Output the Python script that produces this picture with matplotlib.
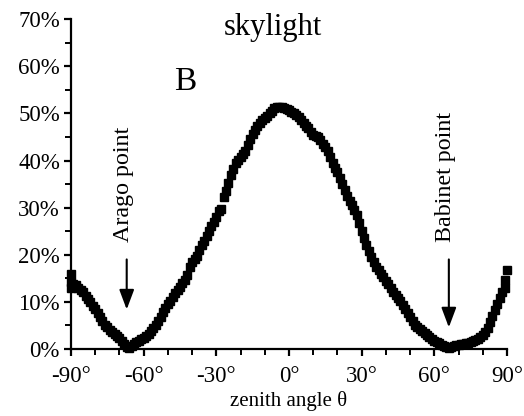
import matplotlib.pyplot as plt
from matplotlib.ticker import MultipleLocator, FuncFormatter

plt.rcParams['font.family'] = ['Liberation Serif', 'DejaVu Serif']

# degree of polarization of skylight along the solar meridian, one reading per degree
theta = list(range(-90, 91))
dop = [13.0, 13.8, 13.5, 13.0, 12.5, 12.0, 11.3, 10.6, 10.0, 9.2,     # -90 .. -81
       8.5, 7.6, 6.8, 6.0, 5.2, 4.6, 4.0, 3.6, 3.2, 2.8,              # -80 .. -71
       2.3, 1.6, 1.0, 0.5, 0.3, 0.6, 1.0, 1.4, 1.8, 2.1,              # -70 .. -61
       2.4, 2.7, 3.2, 3.8, 4.5, 5.2, 6.0, 6.9, 7.8, 8.7,              # -60 .. -51
       9.5, 10.2, 11.0, 11.8, 12.5, 13.2, 14.0, 14.6, 15.8, 17.5,     # -50 .. -41
       18.5, 19.0, 19.8, 21.0, 22.0, 23.0, 24.0, 25.0, 26.0, 27.0,    # -40 .. -31
       28.0, 29.2, 29.8, 32.2, 33.5, 35.2, 37.0, 38.3, 39.5, 40.2,    # -30 .. -21
       40.8, 41.4, 42.0, 43.2, 44.5, 45.6, 46.5, 47.3, 48.0, 48.6,    # -20 .. -11
       49.0, 49.5, 50.0, 50.6, 51.2, 51.4, 51.4, 51.3, 51.2, 51.0,    # -10 .. -1
       50.8, 50.4, 50.0, 49.6, 49.2, 48.6, 48.0, 47.4, 46.8, 46.0,    #   0 .. 9
       45.5, 45.2, 45.0, 44.3, 43.5, 42.8, 42.0, 40.8, 39.5, 38.5,    #  10 .. 19
       37.5, 36.3, 35.0, 33.7, 32.5, 31.5, 30.5, 29.5, 28.5, 26.8,    #  20 .. 29
       25.0, 23.5, 22.0, 20.7, 19.5, 18.5, 17.5, 16.7, 16.0, 15.2,    #  30 .. 39
       14.5, 13.7, 13.0, 12.2, 11.5, 10.8, 10.2, 9.3, 8.5, 7.6,       #  40 .. 49
       6.8, 6.0, 5.2, 4.7, 4.2, 3.8, 3.4, 2.9, 2.5, 2.1,              #  50 .. 59
       1.8, 1.5, 1.2, 0.9, 0.6, 0.4, 0.2, 0.4, 0.6, 0.8,              #  60 .. 69
       0.9, 1.0, 1.1, 1.2, 1.3, 1.4, 1.6, 1.9, 2.2, 2.6,              #  70 .. 79
       3.0, 3.7, 4.5, 5.7, 7.0, 8.2, 9.5, 10.8, 12.0, 14.6,           #  80 .. 89
       16.8]                                                          #  90

# repeated readings near the horizon
extra_theta = [-90, -90, 89]
extra_dop = [14.2, 16.0, 13.0]

# neutral points
neutral_names = ['Arago point', 'Babinet point']
neutral_theta = [-67, 66]
arrow_tip = [7.8, 4.0]

fig = plt.figure(figsize=(5.24, 4.16), dpi=100)
ax = fig.add_axes([0.1355, 0.161, 0.832, 0.793])

ax.plot(theta, dop, linestyle='none', marker='s', markersize=5.2,
        color='black', clip_on=False)
ax.plot(extra_theta, extra_dop, linestyle='none', marker='s', markersize=5.2,
        color='black', clip_on=False)

ax.set_xlim(-90, 90)
ax.set_ylim(0, 70)
ax.xaxis.set_major_locator(MultipleLocator(30))
ax.xaxis.set_minor_locator(MultipleLocator(10))
ax.yaxis.set_major_locator(MultipleLocator(10))
ax.yaxis.set_minor_locator(MultipleLocator(5))
ax.xaxis.set_major_formatter(FuncFormatter(lambda v, p: f'{v:.0f}°'))
ax.yaxis.set_major_formatter(FuncFormatter(lambda v, p: f'{v:.0f}%'))

for side in ['top', 'right']:
    ax.spines[side].set_visible(False)
for side in ['left', 'bottom']:
    ax.spines[side].set_linewidth(1.6)
ax.tick_params(which='major', direction='out', length=5, width=1.6,
               labelsize=16.5, pad=3)
ax.tick_params(axis='x', which='major', pad=7)
ax.tick_params(which='minor', direction='out', length=4, width=1.4)

ax.set_xlabel('zenith angle θ', fontsize=15, labelpad=3)

ax.text(-6.6, 68.3, 'skylight', fontsize=22, ha='center', va='center')
ax.text(-43, 56.8, 'B', fontsize=24, ha='center', va='center')

for name, th, tip in zip(neutral_names, neutral_theta, arrow_tip):
    ax.annotate('', xy=(th, tip), xytext=(th, 19.6),
                arrowprops=dict(arrowstyle='-|>,head_width=0.45,head_length=1.2',
                                color='black', lw=1.5))
    ax.text(th - 1.2, 22.8, name, rotation=90, fontsize=17.3,
            ha='center', va='bottom')

fig.savefig('out.png', dpi=100)
